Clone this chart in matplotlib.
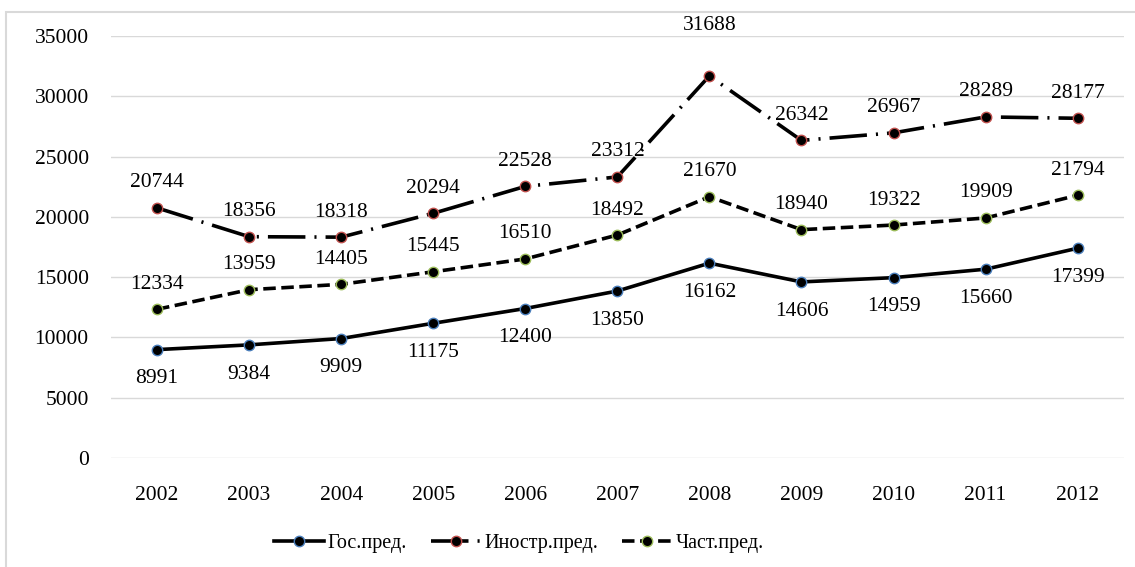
import numpy as np
import matplotlib.pyplot as plt
from matplotlib.patches import Rectangle

plt.rcParams['font.family'] = ['Liberation Serif', 'DejaVu Serif']
plt.rcParams['lines.scale_dashes'] = False

years = [2002, 2003, 2004, 2005, 2006, 2007, 2008, 2009, 2010, 2011, 2012]
gos = [8991, 9384, 9909, 11175, 12400, 13850, 16162, 14606, 14959, 15660, 17399]
inostr = [20744, 18356, 18318, 20294, 22528, 23312, 31688, 26342, 26967, 28289, 28177]
chast = [12334, 13959, 14405, 15445, 16510, 18492, 21670, 18940, 19322, 19909, 21794]
names = ['Гос.пред.', 'Иностр.пред.', 'Част.пред.']

fig = plt.figure(figsize=(11.35, 5.67), dpi=100)
ax = fig.add_axes([0.0978, 0.1922, 0.8922, 0.7443])

x = np.arange(len(years))
fs = 15.5

ax.plot(x, gos, '-', color='black', lw=2.6, marker='o', ms=7.5,
        mfc='black', mec='#4a7ebb', mew=1, label=names[0], zorder=3)
ax.plot(x, inostr, color='black', lw=2.6, dashes=(27, 6.5, 1.5, 6.5),
        marker='o', ms=7.5, mfc='black', mec='#c0504d', mew=1,
        label=names[1], zorder=3)
ax.plot(x, chast, color='black', lw=2.6, dashes=(9, 4),
        marker='o', ms=7.5, mfc='black', mec='#9bbb59', mew=1,
        label=names[2], zorder=3)

for i in range(len(years)):
    ax.annotate(str(gos[i]), (x[i], gos[i]), xytext=(0, -21),
                textcoords='offset points', ha='center', va='center', fontsize=fs)
    dy = 36 if inostr[i] == max(inostr) else 18
    ax.annotate(str(inostr[i]), (x[i], inostr[i]), xytext=(0, dy),
                textcoords='offset points', ha='center', va='center', fontsize=fs)
    ax.annotate(str(chast[i]), (x[i], chast[i]), xytext=(0, 18),
                textcoords='offset points', ha='center', va='center', fontsize=fs)

ax.set_xlim(-0.5, len(years) - 0.5)
ax.set_ylim(0, 35000)
ax.set_yticks(range(0, 35001, 5000))
ax.set_xticks(x)
ax.set_xticklabels(years)
ax.tick_params(length=0, labelsize=fs)
ax.tick_params(axis='y', pad=16)
ax.tick_params(axis='x', pad=20)
ax.grid(axis='y', color='#d9d9d9', lw=1)
ax.set_axisbelow(True)
for s in ax.spines.values():
    s.set_visible(False)

fig.legend(loc='center', bbox_to_anchor=(0.457, 0.042), ncol=3, frameon=False,
           fontsize=14.5, handlelength=2.5, handletextpad=0.15, columnspacing=1.2)

fig.patches.append(Rectangle((6 / 1135, -0.01), 1.1, 1 - 12 / 567 + 0.01,
                             transform=fig.transFigure, fill=False,
                             edgecolor='#d9d9d9', lw=1.5))

fig.savefig('out.png', dpi=100)
